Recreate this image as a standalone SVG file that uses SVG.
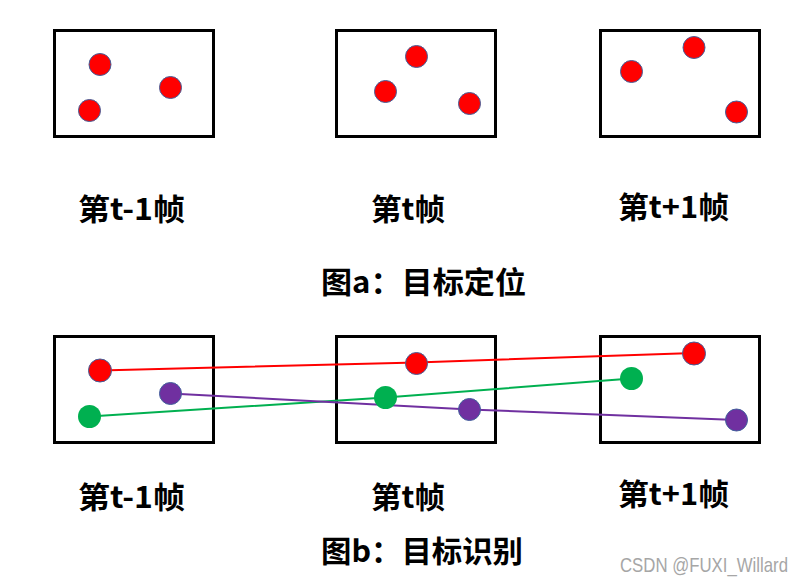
<svg xmlns="http://www.w3.org/2000/svg" width="812" height="583" viewBox="0 0 812 583">
<style>
.frame{fill:#fff;stroke:#000;stroke-width:3}
.lbl{font-family:"Noto Sans CJK SC","Noto Sans",sans-serif;font-weight:bold;font-size:30px;fill:#000}
.r{fill:#FF0000;stroke:#41609C;stroke-width:1}
.g{fill:#00B050}
.p{fill:#7030A0;stroke:#41609C;stroke-width:1}
.wm{font-family:"Liberation Sans",Arial,sans-serif;font-size:21px;fill:#A6A6A6}
</style>
<rect width="812" height="583" fill="#fff"/>
<g id="frame-a1"><rect class="frame" x="54.5" y="30.5" width="159" height="106"/>
<circle class="r" cx="100" cy="64.5" r="11"/><circle class="r" cx="89.5" cy="110.5" r="11"/><circle class="r" cx="170.5" cy="87.5" r="11"/></g>
<g id="frame-a2"><rect class="frame" x="336.5" y="30.5" width="159" height="106"/>
<circle class="r" cx="416.5" cy="56.5" r="11"/><circle class="r" cx="385.5" cy="91.5" r="11"/><circle class="r" cx="469.5" cy="103.5" r="11"/></g>
<g id="frame-a3"><rect class="frame" x="600.5" y="30.5" width="159" height="106"/>
<circle class="r" cx="694" cy="47.5" r="11"/><circle class="r" cx="631.5" cy="71.5" r="11"/><circle class="r" cx="736.5" cy="112" r="11"/></g>
<g id="labels-a">
<text class="lbl" x="78" y="219.5" textLength="107" lengthAdjust="spacingAndGlyphs">第t-1帧</text>
<text class="lbl" x="371" y="219.5" textLength="74" lengthAdjust="spacingAndGlyphs">第t帧</text>
<text class="lbl" x="618" y="217.5" textLength="111" lengthAdjust="spacingAndGlyphs">第t+1帧</text>
<text class="lbl" x="321" y="293" textLength="205" lengthAdjust="spacingAndGlyphs">图a：目标定位</text>
</g>
<g id="frame-b1"><rect class="frame" x="54.5" y="336.5" width="159" height="106"/></g>
<g id="frame-b2"><rect class="frame" x="336.5" y="336.5" width="159" height="106"/></g>
<g id="frame-b3"><rect class="frame" x="600.5" y="336.5" width="159" height="106"/></g>
<g id="connectors" fill="none" stroke-width="2">
<polyline stroke="#FF0000" points="100,370.5 416.5,362.5 694,353"/>
<polyline stroke="#00B050" points="89.5,416.5 385.5,397.5 631.5,378.5"/>
<polyline stroke="#7030A0" points="170.5,393.5 469.5,409.5 736.5,420"/>
</g>
<g id="dots-b">
<circle class="r" cx="100" cy="370.5" r="11.5" stroke="none"/><circle class="p" cx="170.5" cy="393.5" r="11"/><circle class="g" cx="89.5" cy="416.5" r="11.5"/>
<circle class="r" cx="416.5" cy="363.5" r="11"/><circle class="g" cx="385.5" cy="397.5" r="11.5"/><circle class="p" cx="469.5" cy="409.5" r="11"/>
<circle class="r" cx="694" cy="353.5" r="11.5" stroke="none"/><circle class="g" cx="631.5" cy="378.5" r="11.5"/><circle class="p" cx="736.5" cy="420" r="11"/>
</g>
<g id="labels-b">
<text class="lbl" x="78" y="508" textLength="107" lengthAdjust="spacingAndGlyphs">第t-1帧</text>
<text class="lbl" x="371" y="508" textLength="74" lengthAdjust="spacingAndGlyphs">第t帧</text>
<text class="lbl" x="618" y="505" textLength="111" lengthAdjust="spacingAndGlyphs">第t+1帧</text>
<text class="lbl" x="321" y="562" textLength="202" lengthAdjust="spacingAndGlyphs">图b：目标识别</text>
<text class="wm" x="620" y="571.5" textLength="168" lengthAdjust="spacingAndGlyphs">CSDN @FUXI_Willard</text>
</g>
</svg>
